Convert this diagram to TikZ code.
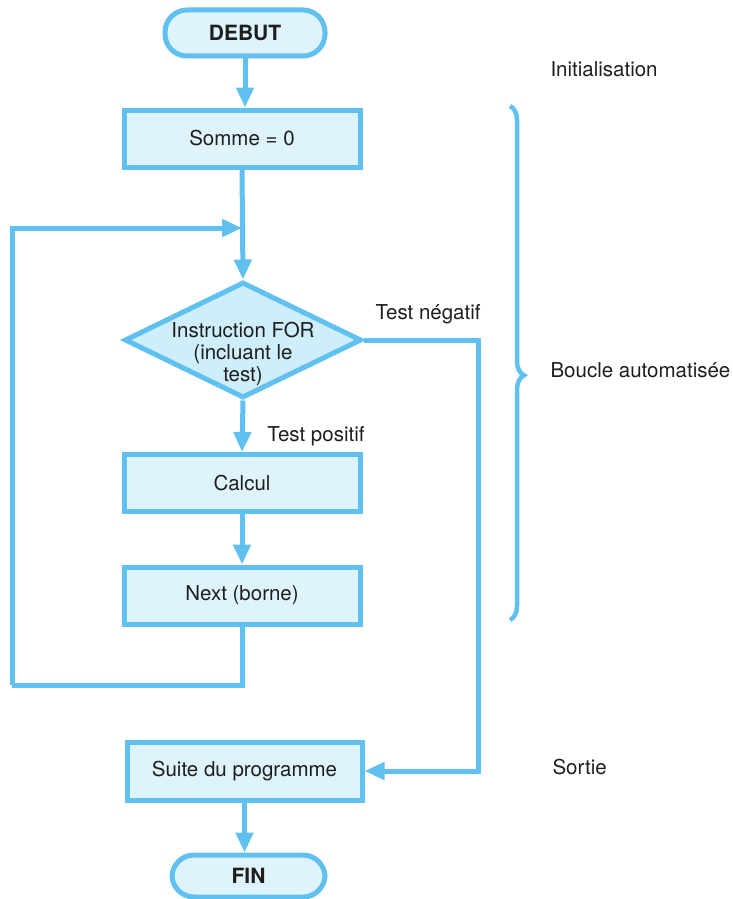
\documentclass[tikz,border=0pt]{standalone}
\usepackage{fontspec}
\setmainfont{TeX Gyre Heros}
\usetikzlibrary{arrows.meta,shapes.geometric,decorations.pathreplacing}
\definecolor{ln}{RGB}{96,192,240}
\definecolor{fl}{RGB}{222,243,251}
\definecolor{fd}{RGB}{205,238,250}
\definecolor{tx}{RGB}{30,30,30}
\begin{document}
\begin{tikzpicture}[x=1pt,y=-1pt,
  every node/.style={text=tx,font=\fontsize{20.5}{23}\selectfont},
  boxst/.style={draw=ln,fill=fl,line width=5pt,minimum width=236pt,minimum height=57pt,inner sep=0pt},
  term/.style={draw=ln,fill=fl,line width=5pt,rounded corners=22pt,inner sep=0pt,font=\fontsize{21}{23}\selectfont\bfseries},
  diam/.style={draw=ln,fill=fd,line width=5pt,diamond,minimum width=237pt,minimum height=116pt,inner sep=0pt},
  con/.style={draw=ln,line width=5pt},
  arr/.style={con,-{Triangle[width=17pt,length=20pt]}},
  lab/.style={anchor=west}]
\useasboundingbox (0,0) rectangle (732,899);
\node[term,minimum width=160pt,minimum height=46pt] (debut) at (245,33) {DEBUT};
\node[boxst] (somme) at (242,138.5) {Somme = 0};
\node[diam] (for) at (243,340) {};
\node[align=center,font=\fontsize{20.5}{22}\selectfont] (fortext) at (243,354) {Instruction FOR\\(incluant le\\test)};
\node[boxst] (calcul) at (242,483) {Calcul};
\node[boxst] (next) at (242,595.5) {Next (borne)};
\node[boxst,minimum width=235pt,minimum height=58pt] (suite) at (244.5,771) {Suite du programme};
\node[term,minimum width=153pt,minimum height=42pt] (fin) at (248.5,876) {FIN};
\coordinate (j) at (242,228);
\coordinate (lb) at (12,685);
\coordinate (rb) at (478,340);
\draw[arr] (debut.south) -- (debut.south |- somme.north);
\draw[arr] (somme.south) -- (for.north);
\draw[con] (next.south) |- (lb);
\draw[arr] (lb) |- (j);
\draw[arr] (for.south) -- (calcul.north);
\draw[arr] (calcul.south) -- (next.north);
\draw[arr] (for.east) -- (rb) |- (suite.east);
\draw[arr] (suite.south) -- (suite.south |- fin.north);
\node (neg) at (428,314) {Test négatif};
\node (pos) at (316,436) {Test positif};
\node[lab] (init) at (547,69) {Initialisation};
\node[lab] (boucle) at (547,370) {Boucle automatisée};
\node[lab] (sortie) at (549,767) {Sortie};
\draw[ln,line width=4.5pt,decorate,decoration={brace,amplitude=14pt,aspect=0.524}] (510,106) -- (510,620);
\end{tikzpicture}
\end{document}
